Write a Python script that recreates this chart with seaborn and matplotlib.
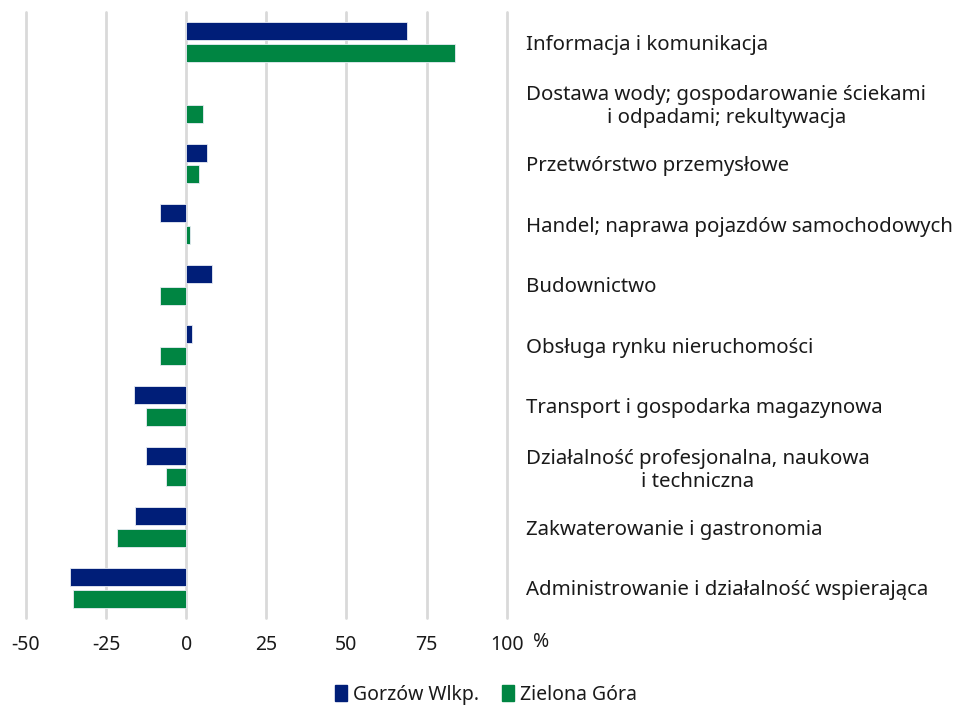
import seaborn as sns
import matplotlib.pyplot as plt
import pandas as pd
import numpy as np

sns.set_theme(style="white")
plt.rcParams['font.family'] = ['Noto Sans', 'DejaVu Sans']

# data (percent change)
categories = [
    "Informacja i komunikacja",
    "Dostawa wody; gospodarowanie ściekami\ni odpadami; rekultywacja",
    "Przetwórstwo przemysłowe",
    "Handel; naprawa pojazdów samochodowych",
    "Budownictwo",
    "Obsługa rynku nieruchomości",
    "Transport i gospodarka magazynowa",
    "Działalność profesjonalna, naukowa\ni techniczna",
    "Zakwaterowanie i gastronomia",
    "Administrowanie i działalność wspierająca",
]
gorzow = [69.0, np.nan, 6.4, -8.3, 8.0, 1.8, -16.4, -12.7, -15.9, -36.3]
zielona = [84.0, 5.2, 4.1, 1.3, -8.3, -8.3, -12.4, -6.3, -21.5, -35.2]
series = ["Gorzów Wlkp.", "Zielona Góra"]
colors = ["#001E78", "#008542"]
x_ticks = [-50, -25, 0, 25, 50, 75, 100]

df = pd.DataFrame({"category": categories * 2,
                   "value": gorzow + zielona,
                   "city": [series[0]] * len(categories) + [series[1]] * len(categories)})

fig = plt.figure(figsize=(9.57, 7.05), dpi=100)
ax = fig.add_axes([26 / 957, 1 - 618 / 705, (506.7 - 26) / 957, (618 - 12) / 705])

# grid lines behind the bars
for t in x_ticks:
    ax.axvline(t, color="#D9D9D9", lw=2, zorder=0, clip_on=False)

sns.barplot(data=df, y="category", x="value", hue="city", orient="h",
            palette=colors, saturation=1, width=0.72, gap=0.18, edgecolor="#e8ecf4",
            linewidth=0.6, ax=ax, legend=False, zorder=2)

ax.set_xlim(-50, 100)
ax.set_ylim(len(categories) - 0.5, -0.5)
ax.set_xticks(x_ticks)
ax.set_xticklabels([str(t) for t in x_ticks])
ax.set_xlabel("")
ax.set_ylabel("")
sns.despine(ax=ax, left=True, bottom=True)

ax.yaxis.tick_right()
ax.tick_params(axis="y", length=0, pad=14, labelsize=14.7, labelcolor="#1a1a1a")
ax.tick_params(axis="x", length=0, pad=12, labelsize=14, labelcolor="#1a1a1a")
for lab in ax.get_yticklabels():
    lab.set_horizontalalignment("left")
    lab.set_multialignment("center")

fig.text(541 / 957, 1 - 642 / 705, "%", fontsize=14, color="#1a1a1a",
         ha="center", va="center")

handles = [plt.Rectangle((0, 0), 1, 1, color=c) for c in colors]
fig.legend(handles, series, loc="center", bbox_to_anchor=(486 / 957, 10 / 705),
           ncol=2, frameon=False, fontsize=14, handlelength=0.6, handleheight=0.9,
           handletextpad=0.3, columnspacing=1.2, labelcolor="#1a1a1a")

fig.savefig("out.png", dpi=100)
